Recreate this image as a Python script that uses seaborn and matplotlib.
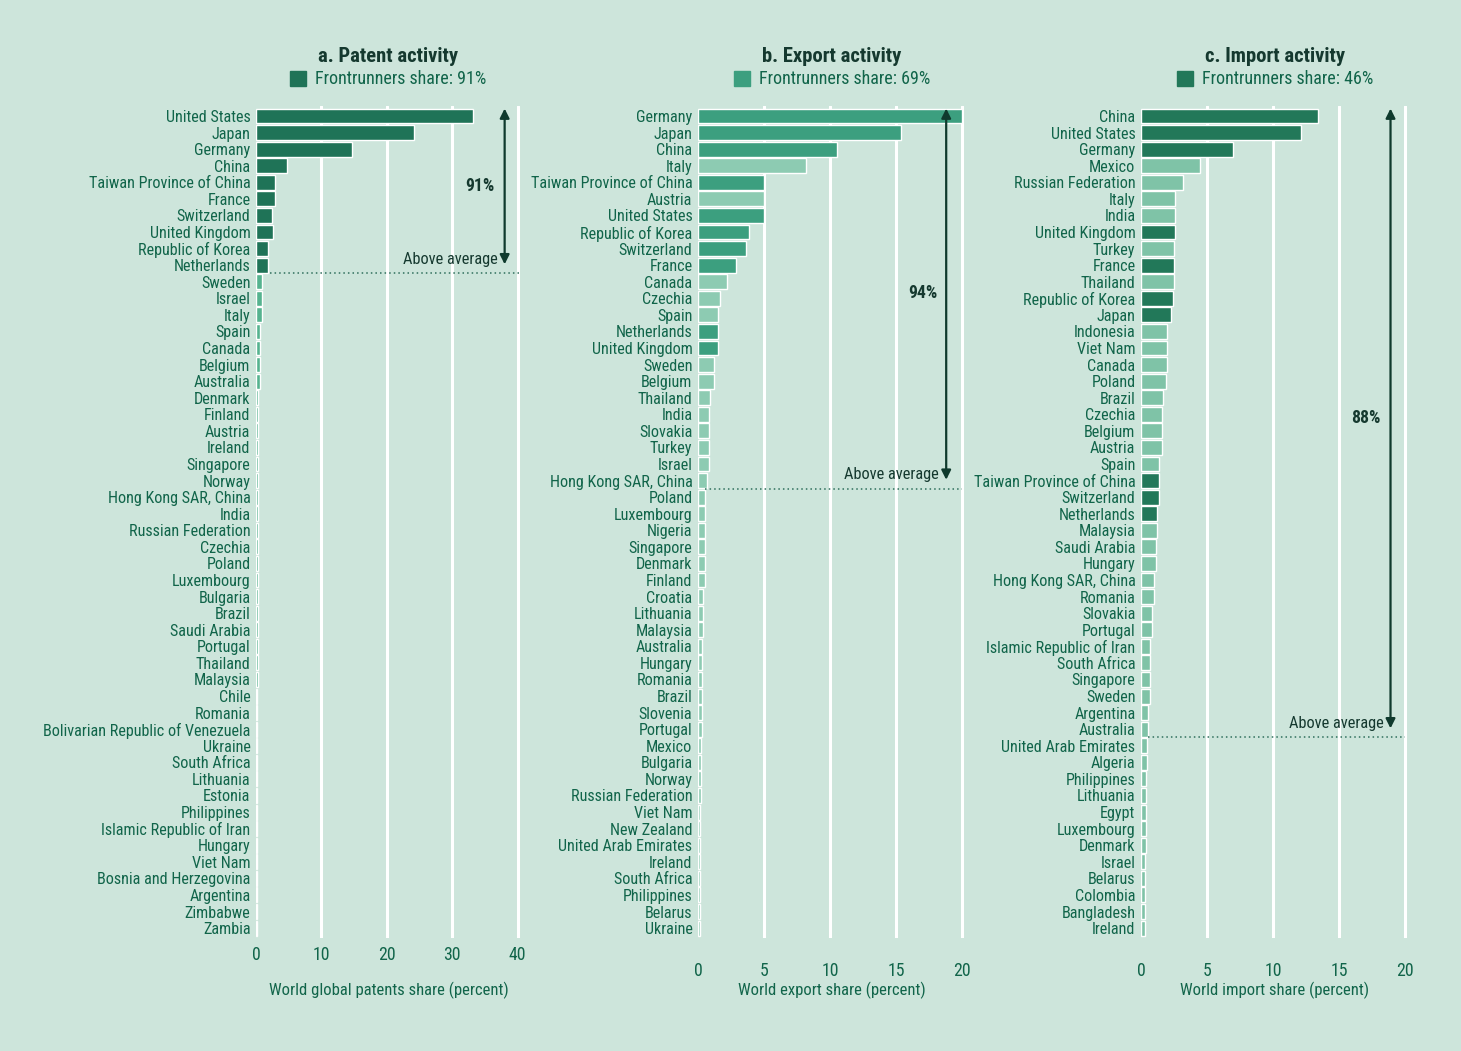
import numpy as np
import pandas as pd
import matplotlib.pyplot as plt
from matplotlib import font_manager
from matplotlib.patches import Patch
import seaborn as sns

# --- data --------------------------------------------------------------------
patent_countries = ['United States', 'Japan', 'Germany', 'China', 'Taiwan Province of China',
                    'France', 'Switzerland', 'United Kingdom', 'Republic of Korea', 'Netherlands',
                    'Sweden', 'Israel', 'Italy', 'Spain', 'Canada', 'Belgium', 'Australia',
                    'Denmark', 'Finland', 'Austria', 'Ireland', 'Singapore', 'Norway',
                    'Hong Kong SAR, China', 'India', 'Russian Federation', 'Czechia', 'Poland',
                    'Luxembourg', 'Bulgaria', 'Brazil', 'Saudi Arabia', 'Portugal', 'Thailand',
                    'Malaysia', 'Chile', 'Romania', 'Bolivarian Republic of Venezuela', 'Ukraine',
                    'South Africa', 'Lithuania', 'Estonia', 'Philippines',
                    'Islamic Republic of Iran', 'Hungary', 'Viet Nam', 'Bosnia and Herzegovina',
                    'Argentina', 'Zimbabwe', 'Zambia']
patent_share = [33.1, 24.1, 14.7, 4.7, 2.9, 2.9, 2.5, 2.6, 1.9, 1.9,
                0.9, 0.9, 0.9, 0.6, 0.6, 0.6, 0.6, 0.35, 0.35, 0.35,
                0.35, 0.35, 0.25, 0.25, 0.25, 0.25, 0.25, 0.25, 0.25, 0.25,
                0.25, 0.25, 0.25, 0.25, 0.25, 0.2, 0.2, 0.2, 0.2, 0.2,
                0.2, 0.2, 0.2, 0.2, 0.2, 0.2, 0.2, 0.2, 0.2, 0.2]

export_countries = ['Germany', 'Japan', 'China', 'Italy', 'Taiwan Province of China', 'Austria',
                    'United States', 'Republic of Korea', 'Switzerland', 'France', 'Canada',
                    'Czechia', 'Spain', 'Netherlands', 'United Kingdom', 'Sweden', 'Belgium',
                    'Thailand', 'India', 'Slovakia', 'Turkey', 'Israel', 'Hong Kong SAR, China',
                    'Poland', 'Luxembourg', 'Nigeria', 'Singapore', 'Denmark', 'Finland',
                    'Croatia', 'Lithuania', 'Malaysia', 'Australia', 'Hungary', 'Romania',
                    'Brazil', 'Slovenia', 'Portugal', 'Mexico', 'Bulgaria', 'Norway',
                    'Russian Federation', 'Viet Nam', 'New Zealand', 'United Arab Emirates',
                    'Ireland', 'South Africa', 'Philippines', 'Belarus', 'Ukraine']
export_share = [20.0, 15.4, 10.5, 8.2, 5.0, 5.0, 5.0, 3.9, 3.6, 2.9,
                2.2, 1.7, 1.5, 1.5, 1.5, 1.2, 1.2, 0.9, 0.8, 0.8,
                0.8, 0.8, 0.7, 0.5, 0.5, 0.5, 0.5, 0.5, 0.5, 0.4,
                0.4, 0.4, 0.3, 0.3, 0.3, 0.3, 0.3, 0.3, 0.2, 0.2,
                0.2, 0.2, 0.15, 0.15, 0.15, 0.15, 0.15, 0.15, 0.15, 0.15]

import_countries = ['China', 'United States', 'Germany', 'Mexico', 'Russian Federation', 'Italy',
                    'India', 'United Kingdom', 'Turkey', 'France', 'Thailand',
                    'Republic of Korea', 'Japan', 'Indonesia', 'Viet Nam', 'Canada', 'Poland',
                    'Brazil', 'Czechia', 'Belgium', 'Austria', 'Spain',
                    'Taiwan Province of China', 'Switzerland', 'Netherlands', 'Malaysia',
                    'Saudi Arabia', 'Hungary', 'Hong Kong SAR, China', 'Romania', 'Slovakia',
                    'Portugal', 'Islamic Republic of Iran', 'South Africa', 'Singapore', 'Sweden',
                    'Argentina', 'Australia', 'United Arab Emirates', 'Algeria', 'Philippines',
                    'Lithuania', 'Egypt', 'Luxembourg', 'Denmark', 'Israel', 'Belarus',
                    'Colombia', 'Bangladesh', 'Ireland']
import_share = [13.4, 12.1, 7.0, 4.5, 3.2, 2.6, 2.6, 2.6, 2.5, 2.5,
                2.5, 2.4, 2.3, 2.0, 2.0, 2.0, 1.9, 1.7, 1.6, 1.6,
                1.6, 1.4, 1.4, 1.4, 1.2, 1.2, 1.1, 1.1, 0.95, 0.95,
                0.8, 0.8, 0.7, 0.7, 0.7, 0.7, 0.55, 0.55, 0.45, 0.45,
                0.4, 0.4, 0.35, 0.35, 0.35, 0.3, 0.3, 0.3, 0.3, 0.3]

frontrunners = ['United States', 'Japan', 'Germany', 'China', 'Taiwan Province of China',
                'France', 'Switzerland', 'United Kingdom', 'Republic of Korea', 'Netherlands']

titles = ['a. Patent activity', 'b. Export activity', 'c. Import activity']
front_share = ['Frontrunners share: 91%', 'Frontrunners share: 69%', 'Frontrunners share: 46%']
above_share = ['91%', '94%', '88%']
xlabels = ['World global patents share (percent)', 'World export share (percent)',
           'World import share (percent)']
xticks = [[0, 10, 20, 30, 40], [0, 5, 10, 15, 20], [0, 5, 10, 15, 20]]
above_rows = [9, 22, 37]   # last row above average

# --- font: take a narrow face if one is installed ---------------------------
fonts = font_manager.fontManager.ttflist
names = {f.name for f in fonts}
family, stretch, ratio = 'DejaVu Sans', 'normal', 1.0
for n, r in [('Liberation Sans Narrow', 0.75), ('Roboto Condensed', 0.82),
             ('DejaVu Sans Condensed', 0.9)]:
    if n in names:
        family, ratio = n, r
        break
else:
    if any(f.name == 'DejaVu Sans' and f.stretch == 'condensed' for f in fonts):
        stretch, ratio = 'condensed', 0.9

def fs(size):
    return size / ratio

# --- style ------------------------------------------------------------------
bg = '#cde5db'
txt = '#11654a'
dark_txt = '#15392f'
bar_cols = [('#1f7357', '#55b38f'), ('#3c9f7f', '#8dcbb2'), ('#227859', '#7fc3a7')]

sns.set_theme(style='white')
plt.rcParams['font.family'] = [family, 'DejaVu Sans']
plt.rcParams['font.stretch'] = stretch

fig = plt.figure(figsize=(14.61, 10.51), dpi=100, facecolor=bg)

lefts = [256 / 1461, 698 / 1461, 1141 / 1461]
widths = [265 / 1461, 268 / 1461, 268 / 1461]
xmax = [40.5, 20.3, 20.3]
tick_pad = [6, 17, 17]
arrow_x = [38.0, 18.8, 18.9]
text_x = [37.0, 18.25, 18.4]
pct_x = [34.2, 17.0, 17.0]
pct_y = [4.2, 10.7, 18.2]
line_x0 = [2.1, 0.5, 0.5]

panels = [(patent_countries, patent_share), (export_countries, export_share),
          (import_countries, import_share)]

for i, (countries, share) in enumerate(panels):
    ax = fig.add_axes([lefts[i], 0.1075, widths[i], 0.7916])
    ax.set_facecolor(bg)
    df = pd.DataFrame({'country': countries, 'share': share})
    df['group'] = np.where(df['country'].isin(frontrunners), 'front', 'other')
    pal = {'front': bar_cols[i][0], 'other': bar_cols[i][1]}
    sns.barplot(data=df, x='share', y='country', hue='group', palette=pal, dodge=False,
                width=0.9, saturation=1, legend=False, ax=ax, zorder=3)

    for t in xticks[i][1:]:
        ax.axvline(t, color='white', lw=2.2, zorder=1)

    ax.set_xlim(0, xmax[i])
    ax.set_ylim(49.6, -0.6)
    ax.set_xticks(xticks[i])
    ax.tick_params(axis='x', length=0, pad=tick_pad[i], labelsize=fs(10.5), labelcolor=txt)
    ax.tick_params(axis='y', length=0, pad=4, labelsize=fs(9.5), labelcolor=txt)
    ax.set_ylabel('')
    ax.set_xlabel(xlabels[i], fontsize=fs(9.8), color=txt)
    ax.xaxis.set_label_coords(0.5, -0.052)
    for s in ax.spines.values():
        s.set_visible(False)

    # title and frontrunner legend
    ax.text(0.5, 1.06, titles[i], transform=ax.transAxes, ha='center', va='center',
            fontsize=fs(12.2), fontweight='bold', color=dark_txt)
    ax.legend(handles=[Patch(color=bar_cols[i][0])], labels=[front_share[i]],
              loc='center', bbox_to_anchor=(0.5, 1.032), frameon=False,
              handlelength=0.9, handleheight=0.9, handletextpad=0.5,
              fontsize=fs(10.6), labelcolor=txt, borderpad=0)

    # above average bracket
    r = above_rows[i]
    ax.plot([line_x0[i], xmax[i] - 0.3], [r + 0.5, r + 0.5], ls=(0, (1, 2)),
            color='#2f6f5c', lw=1.1, zorder=4)
    ax.annotate('', xy=(arrow_x[i], -0.45), xytext=(arrow_x[i], r - 0.05),
                arrowprops=dict(arrowstyle='<|-|>', color='#0f3a2d', lw=1.6,
                                mutation_scale=14, shrinkA=0, shrinkB=0), zorder=5)
    ax.text(text_x[i], r - 0.35, 'Above average', ha='right', va='center',
            fontsize=fs(9.7), color=dark_txt, zorder=5)
    ax.text(pct_x[i], pct_y[i], above_share[i], ha='center', va='center',
            fontsize=fs(10.5), fontweight='bold', color=dark_txt, zorder=5)

fig.savefig('out.png', dpi=100, facecolor=bg)
